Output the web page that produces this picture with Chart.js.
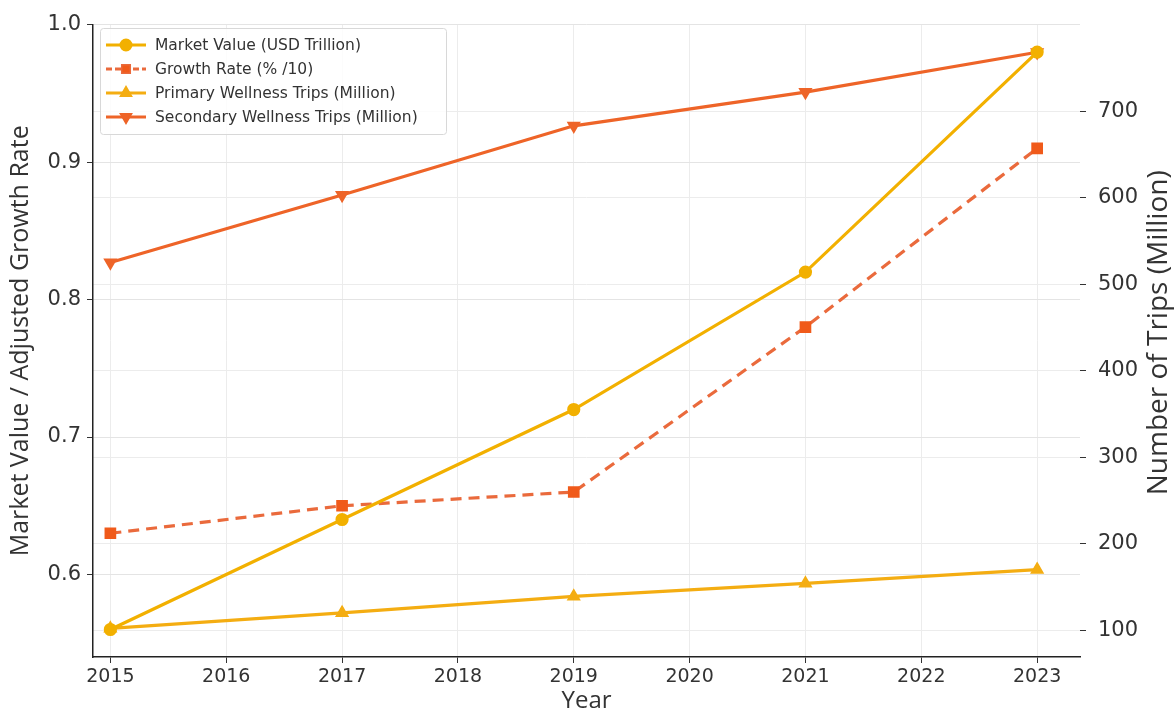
<!DOCTYPE html>
<html>
<head>
<meta charset="utf-8">
<script src="https://cdn.jsdelivr.net/npm/chart.js@4"></script>
<style>
  html, body { margin: 0; padding: 0; background: #fff; }
  #wrap { width: 1175px; height: 720px; }
</style>
</head>
<body>
<div id="wrap"><canvas id="myGraph"></canvas></div>
<script>
const years = [2015, 2017, 2019, 2021, 2023];
const yearTicks = [2015, 2016, 2017, 2018, 2019, 2020, 2021, 2022, 2023];
const marketValue = [0.56, 0.64, 0.72, 0.82, 0.98];
const growthRate = [0.63, 0.65, 0.66, 0.78, 0.91];
const primaryTrips = [102, 120, 139, 154, 170];
const secondaryTrips = [525, 603, 683, 722, 768];
const leftTicks = [0.6, 0.7, 0.8, 0.9, 1.0];
const rightTicks = [100, 200, 300, 400, 500, 600, 700];
const rightTitle = 'Number of Trips (Million)';

const pts = (vals) => years.map((y, i) => ({ x: y, y: vals[i] }));

const font = 'DejaVu Sans';
const titleFont = 'Open Sans';

// legend drawn inside the plot, top left, plus the right axis title read bottom-up
const boxLegend = {
  id: 'boxLegend',
  afterDraw(chart) {
    const c = chart.ctx;
    const x0 = 100, y0 = 28, w = 346, h = 106;
    c.save();
    c.fillStyle = 'rgba(255,255,255,0.85)';
    c.strokeStyle = '#d8d8d8';
    c.lineWidth = 1;
    c.beginPath();
    c.roundRect(x0 + 0.5, y0 + 0.5, w, h, 3);
    c.fill();
    c.stroke();
    c.font = '15.5px ' + font;
    c.textBaseline = 'middle';
    chart.data.datasets.forEach((ds, i) => {
      const yy = y0 + 17 + i * 24;
      c.strokeStyle = ds.borderColor;
      c.lineWidth = 3;
      c.setLineDash(ds.borderDash ? [6, 3] : []);
      c.beginPath();
      c.moveTo(x0 + 6, yy);
      c.lineTo(x0 + 46, yy);
      c.stroke();
      c.setLineDash([]);
      Chart.helpers.drawPoint(c, {
        pointStyle: ds.pointStyle, rotation: ds.pointRotation || 0,
        radius: 5, borderWidth: 1
      }, x0 + 26, yy);
      c.fillStyle = ds.pointBackgroundColor;
      c.strokeStyle = ds.pointBackgroundColor;
      c.fill();
      c.fillStyle = '#333';
      c.fillText(ds.label, x0 + 55, yy + 1);
    });

    const area = chart.chartArea;
    c.translate(1159, (area.top + area.bottom) / 2 - 8);
    c.rotate(-Math.PI / 2);
    c.font = '28px "' + titleFont + '"';
    c.fillStyle = '#333';
    c.textAlign = 'center';
    c.textBaseline = 'middle';
    c.fillText(rightTitle, 0, 0);
    c.restore();
  }
};

const data = {
  datasets: [{
    label: 'Market Value (USD Trillion)',
    data: pts(marketValue),
    yAxisID: 'y',
    borderColor: '#f2b000',
    pointBackgroundColor: '#f2b000',
    pointBorderColor: '#f2b000',
    pointStyle: 'circle',
    borderWidth: 3.2,
    pointRadius: 5
  },
  {
    label: 'Growth Rate (% /10)',
    data: pts(growthRate),
    yAxisID: 'y',
    borderColor: '#ea6a3c',
    pointBackgroundColor: '#f05a1a',
    pointBorderColor: '#f05a1a',
    pointStyle: 'rect',
    borderDash: [11, 7],
    borderWidth: 3.2,
    pointRadius: 6
  },
  {
    label: 'Primary Wellness Trips (Million)',
    data: pts(primaryTrips),
    yAxisID: 'y1',
    borderColor: '#f4ad12',
    pointBackgroundColor: '#f4ad12',
    pointBorderColor: '#f4ad12',
    pointStyle: 'triangle',
    borderWidth: 3.2,
    pointRadius: 5
  },
  {
    label: 'Secondary Wellness Trips (Million)',
    data: pts(secondaryTrips),
    yAxisID: 'y1',
    borderColor: '#ee6428',
    pointBackgroundColor: '#ee6428',
    pointBorderColor: '#ee6428',
    pointStyle: 'triangle',
    pointRotation: 180,
    borderWidth: 3.2,
    pointRadius: 5
  }]
};

const config = {
  type: 'line',
  data: data,
  plugins: [boxLegend],
  options: {
    responsive: true,
    maintainAspectRatio: false,
    animation: false,
    layout: { padding: { top: 22, left: 0, right: 0, bottom: 0 } },
    plugins: { legend: { display: false }, tooltip: { enabled: false } },
    scales: {
      x: {
        type: 'linear',
        min: 2014.85,
        max: 2023.37,
        afterBuildTicks: (ax) => { ax.ticks = yearTicks.map(v => ({ value: v })); },
        afterFit: (ax) => { ax.height = 63; },
        ticks: { color: '#333', font: { family: font, size: 19 }, padding: 3, callback: v => String(v) },
        grid: { color: '#ececec', tickColor: '#333', tickLength: 6 },
        border: { display: true, color: '#222', width: 1.5 },
        title: { display: true, text: 'Year', color: '#333', font: { family: titleFont, size: 24 }, padding: { top: 0 } }
      },
      y: {
        position: 'left',
        min: 0.54,
        max: 1.0,
        afterBuildTicks: (ax) => { ax.ticks = leftTicks.map(v => ({ value: v })); },
        afterFit: (ax) => { ax.width = 93; },
        ticks: { color: '#333', font: { family: font, size: 21 }, padding: 6, callback: v => v.toFixed(1) },
        grid: { color: '#e4e4e4', tickColor: '#333', tickLength: 6 },
        border: { display: true, color: '#222', width: 1.5 },
        title: { display: true, text: 'Market Value / Adjusted Growth Rate', color: '#333', font: { family: titleFont, size: 25 }, padding: { top: 6, bottom: 0 } }
      },
      y1: {
        position: 'right',
        min: 69,
        max: 800,
        afterBuildTicks: (ax) => { ax.ticks = rightTicks.map(v => ({ value: v })); },
        afterFit: (ax) => { ax.width = 95; },
        ticks: { color: '#333', font: { family: font, size: 21 }, padding: 12 },
        grid: { color: '#ececec', tickColor: '#333', tickLength: 6 },
        border: { display: false }
      }
    }
  }
};

const ctx = document.getElementById('myGraph');
const myChart = new Chart(ctx, config);
</script>
</body>
</html>
